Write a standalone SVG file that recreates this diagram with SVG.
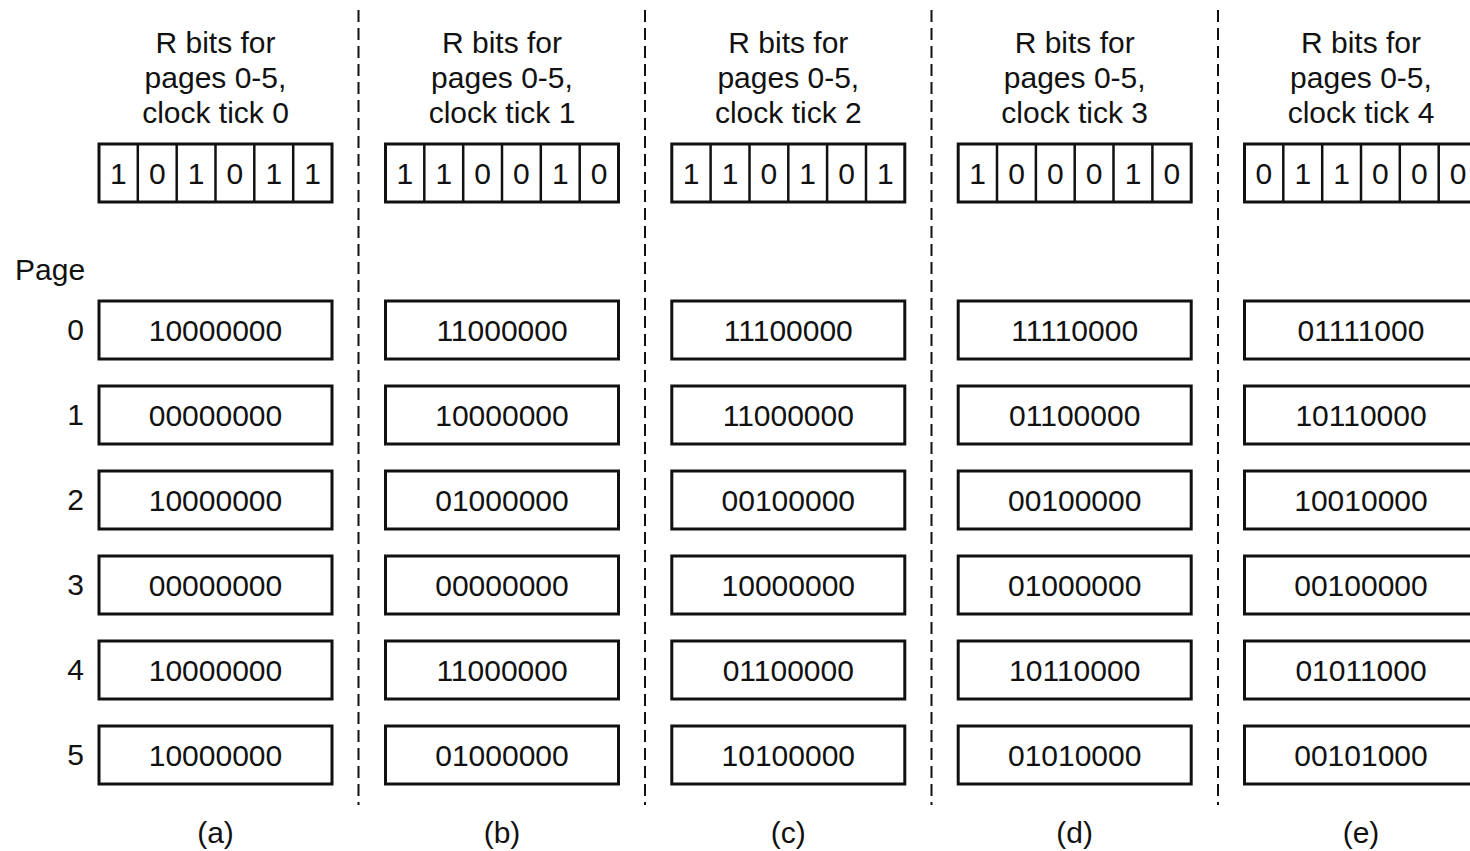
<svg xmlns="http://www.w3.org/2000/svg" width="1470" height="851" viewBox="0 0 1470 851">
<style>
text{font-family:"Liberation Sans",Arial,Helvetica,sans-serif;font-size:30px;fill:#111;}
.c{text-anchor:middle}
.r{text-anchor:end}
.box{fill:#fff;stroke:#111;stroke-width:3}
.div{stroke:#111;stroke-width:2.5}
.dash{stroke:#111;stroke-width:2;stroke-dasharray:12 6;fill:none}
</style>
<rect width="1470" height="851" fill="#fff"/>
<g id="separators">
<line class="dash" x1="358.5" y1="10" x2="358.5" y2="805"/>
<line class="dash" x1="645" y1="10" x2="645" y2="805"/>
<line class="dash" x1="931.5" y1="10" x2="931.5" y2="805"/>
<line class="dash" x1="1218" y1="10" x2="1218" y2="805"/>
</g>
<g id="page-labels">
<text x="15" y="280">Page</text>
<text class="r" x="84" y="340">0</text>
<text class="r" x="84" y="425">1</text>
<text class="r" x="84" y="510">2</text>
<text class="r" x="84" y="595">3</text>
<text class="r" x="84" y="680">4</text>
<text class="r" x="84" y="765">5</text>
</g>
<g id="col-a">
<text class="c" x="215.5" y="53">R bits for</text>
<text class="c" x="215.5" y="88">pages 0-5,</text>
<text class="c" x="215.5" y="123">clock tick 0</text>
<rect class="box" x="99" y="144" width="233" height="58"/>
<line class="div" x1="137.8" y1="144" x2="137.8" y2="202"/><line class="div" x1="176.7" y1="144" x2="176.7" y2="202"/><line class="div" x1="215.5" y1="144" x2="215.5" y2="202"/><line class="div" x1="254.3" y1="144" x2="254.3" y2="202"/><line class="div" x1="293.2" y1="144" x2="293.2" y2="202"/>
<text class="c" x="118.4" y="184">1</text><text class="c" x="157.3" y="184">0</text><text class="c" x="196.1" y="184">1</text><text class="c" x="234.9" y="184">0</text><text class="c" x="273.8" y="184">1</text><text class="c" x="312.6" y="184">1</text>
<rect class="box" x="99" y="301" width="233" height="58"/><text class="c" x="215.5" y="341">10000000</text>
<rect class="box" x="99" y="386" width="233" height="58"/><text class="c" x="215.5" y="426">00000000</text>
<rect class="box" x="99" y="471" width="233" height="58"/><text class="c" x="215.5" y="511">10000000</text>
<rect class="box" x="99" y="556" width="233" height="58"/><text class="c" x="215.5" y="596">00000000</text>
<rect class="box" x="99" y="641" width="233" height="58"/><text class="c" x="215.5" y="681">10000000</text>
<rect class="box" x="99" y="726" width="233" height="58"/><text class="c" x="215.5" y="766">10000000</text>
<text class="c" x="215.5" y="843">(a)</text>
</g>
<g id="col-b" transform="translate(286.5,0)">
<text class="c" x="215.5" y="53">R bits for</text>
<text class="c" x="215.5" y="88">pages 0-5,</text>
<text class="c" x="215.5" y="123">clock tick 1</text>
<rect class="box" x="99" y="144" width="233" height="58"/>
<line class="div" x1="137.8" y1="144" x2="137.8" y2="202"/><line class="div" x1="176.7" y1="144" x2="176.7" y2="202"/><line class="div" x1="215.5" y1="144" x2="215.5" y2="202"/><line class="div" x1="254.3" y1="144" x2="254.3" y2="202"/><line class="div" x1="293.2" y1="144" x2="293.2" y2="202"/>
<text class="c" x="118.4" y="184">1</text><text class="c" x="157.3" y="184">1</text><text class="c" x="196.1" y="184">0</text><text class="c" x="234.9" y="184">0</text><text class="c" x="273.8" y="184">1</text><text class="c" x="312.6" y="184">0</text>
<rect class="box" x="99" y="301" width="233" height="58"/><text class="c" x="215.5" y="341">11000000</text>
<rect class="box" x="99" y="386" width="233" height="58"/><text class="c" x="215.5" y="426">10000000</text>
<rect class="box" x="99" y="471" width="233" height="58"/><text class="c" x="215.5" y="511">01000000</text>
<rect class="box" x="99" y="556" width="233" height="58"/><text class="c" x="215.5" y="596">00000000</text>
<rect class="box" x="99" y="641" width="233" height="58"/><text class="c" x="215.5" y="681">11000000</text>
<rect class="box" x="99" y="726" width="233" height="58"/><text class="c" x="215.5" y="766">01000000</text>
<text class="c" x="215.5" y="843">(b)</text>
</g>
<g id="col-c" transform="translate(572.8,0)">
<text class="c" x="215.5" y="53">R bits for</text>
<text class="c" x="215.5" y="88">pages 0-5,</text>
<text class="c" x="215.5" y="123">clock tick 2</text>
<rect class="box" x="99" y="144" width="233" height="58"/>
<line class="div" x1="137.8" y1="144" x2="137.8" y2="202"/><line class="div" x1="176.7" y1="144" x2="176.7" y2="202"/><line class="div" x1="215.5" y1="144" x2="215.5" y2="202"/><line class="div" x1="254.3" y1="144" x2="254.3" y2="202"/><line class="div" x1="293.2" y1="144" x2="293.2" y2="202"/>
<text class="c" x="118.4" y="184">1</text><text class="c" x="157.3" y="184">1</text><text class="c" x="196.1" y="184">0</text><text class="c" x="234.9" y="184">1</text><text class="c" x="273.8" y="184">0</text><text class="c" x="312.6" y="184">1</text>
<rect class="box" x="99" y="301" width="233" height="58"/><text class="c" x="215.5" y="341">11100000</text>
<rect class="box" x="99" y="386" width="233" height="58"/><text class="c" x="215.5" y="426">11000000</text>
<rect class="box" x="99" y="471" width="233" height="58"/><text class="c" x="215.5" y="511">00100000</text>
<rect class="box" x="99" y="556" width="233" height="58"/><text class="c" x="215.5" y="596">10000000</text>
<rect class="box" x="99" y="641" width="233" height="58"/><text class="c" x="215.5" y="681">01100000</text>
<rect class="box" x="99" y="726" width="233" height="58"/><text class="c" x="215.5" y="766">10100000</text>
<text class="c" x="215.5" y="843">(c)</text>
</g>
<g id="col-d" transform="translate(859.2,0)">
<text class="c" x="215.5" y="53">R bits for</text>
<text class="c" x="215.5" y="88">pages 0-5,</text>
<text class="c" x="215.5" y="123">clock tick 3</text>
<rect class="box" x="99" y="144" width="233" height="58"/>
<line class="div" x1="137.8" y1="144" x2="137.8" y2="202"/><line class="div" x1="176.7" y1="144" x2="176.7" y2="202"/><line class="div" x1="215.5" y1="144" x2="215.5" y2="202"/><line class="div" x1="254.3" y1="144" x2="254.3" y2="202"/><line class="div" x1="293.2" y1="144" x2="293.2" y2="202"/>
<text class="c" x="118.4" y="184">1</text><text class="c" x="157.3" y="184">0</text><text class="c" x="196.1" y="184">0</text><text class="c" x="234.9" y="184">0</text><text class="c" x="273.8" y="184">1</text><text class="c" x="312.6" y="184">0</text>
<rect class="box" x="99" y="301" width="233" height="58"/><text class="c" x="215.5" y="341">11110000</text>
<rect class="box" x="99" y="386" width="233" height="58"/><text class="c" x="215.5" y="426">01100000</text>
<rect class="box" x="99" y="471" width="233" height="58"/><text class="c" x="215.5" y="511">00100000</text>
<rect class="box" x="99" y="556" width="233" height="58"/><text class="c" x="215.5" y="596">01000000</text>
<rect class="box" x="99" y="641" width="233" height="58"/><text class="c" x="215.5" y="681">10110000</text>
<rect class="box" x="99" y="726" width="233" height="58"/><text class="c" x="215.5" y="766">01010000</text>
<text class="c" x="215.5" y="843">(d)</text>
</g>
<g id="col-e" transform="translate(1145.5,0)">
<text class="c" x="215.5" y="53">R bits for</text>
<text class="c" x="215.5" y="88">pages 0-5,</text>
<text class="c" x="215.5" y="123">clock tick 4</text>
<rect class="box" x="99" y="144" width="233" height="58"/>
<line class="div" x1="137.8" y1="144" x2="137.8" y2="202"/><line class="div" x1="176.7" y1="144" x2="176.7" y2="202"/><line class="div" x1="215.5" y1="144" x2="215.5" y2="202"/><line class="div" x1="254.3" y1="144" x2="254.3" y2="202"/><line class="div" x1="293.2" y1="144" x2="293.2" y2="202"/>
<text class="c" x="118.4" y="184">0</text><text class="c" x="157.3" y="184">1</text><text class="c" x="196.1" y="184">1</text><text class="c" x="234.9" y="184">0</text><text class="c" x="273.8" y="184">0</text><text class="c" x="312.6" y="184">0</text>
<rect class="box" x="99" y="301" width="233" height="58"/><text class="c" x="215.5" y="341">01111000</text>
<rect class="box" x="99" y="386" width="233" height="58"/><text class="c" x="215.5" y="426">10110000</text>
<rect class="box" x="99" y="471" width="233" height="58"/><text class="c" x="215.5" y="511">10010000</text>
<rect class="box" x="99" y="556" width="233" height="58"/><text class="c" x="215.5" y="596">00100000</text>
<rect class="box" x="99" y="641" width="233" height="58"/><text class="c" x="215.5" y="681">01011000</text>
<rect class="box" x="99" y="726" width="233" height="58"/><text class="c" x="215.5" y="766">00101000</text>
<text class="c" x="215.5" y="843">(e)</text>
</g>
</svg>
